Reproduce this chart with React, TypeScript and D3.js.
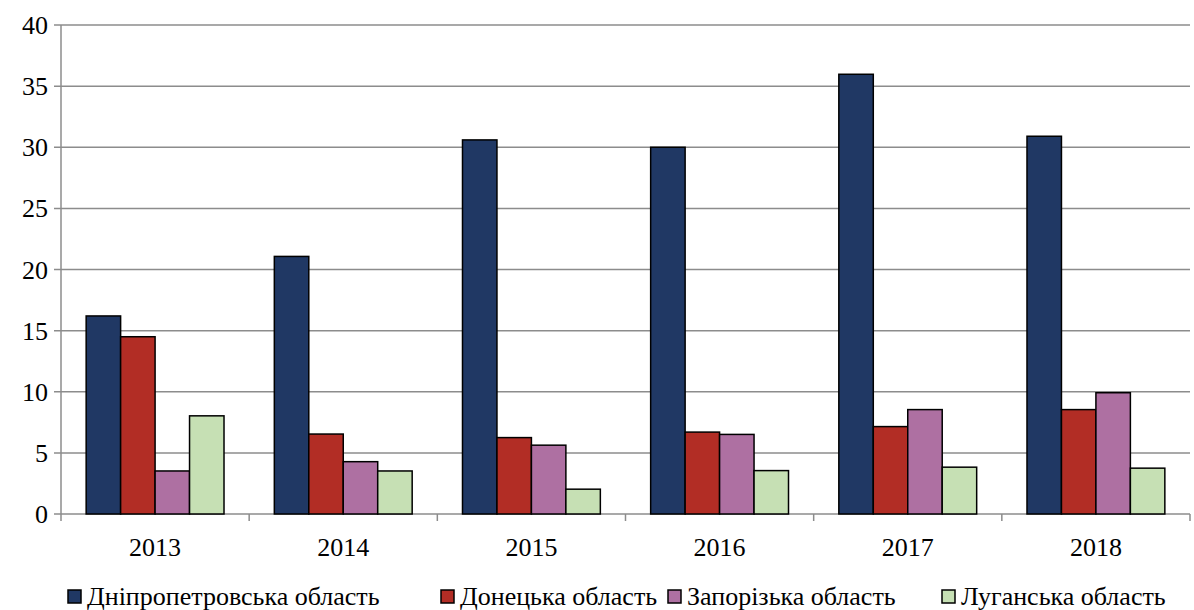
import React, { useEffect, useRef } from "react";
import * as d3 from "d3";

const years = ["2013", "2014", "2015", "2016", "2017", "2018"];
const seriesNames = [
  "Дніпропетровська область",
  "Донецька область",
  "Запорізька область",
  "Луганська область",
];
const dnipro = [16.2, 21.07, 30.6, 30.0, 35.97, 30.9];
const donetsk = [14.5, 6.54, 6.25, 6.7, 7.15, 8.54];
const zaporizhzhia = [3.52, 4.28, 5.63, 6.51, 8.54, 9.92];
const luhansk = [8.03, 3.52, 2.03, 3.55, 3.83, 3.75];
const yTicks = [0, 5, 10, 15, 20, 25, 30, 35, 40];
const colors = ["#203864", "#B22D25", "#AE70A2", "#C6E0B4"];

const W = 1194;
const H = 610;
const left = 61;
const right = 1190;
const top = 25;
const bottom = 514;

export default function App() {
  const ref = useRef<SVGSVGElement>(null);

  useEffect(() => {
    const svg = d3.select(ref.current);
    svg.selectAll("*").remove();
    const series = [dnipro, donetsk, zaporizhzhia, luhansk];
    const x = d3.scaleBand<string>().domain(years).range([left, right]).paddingInner(0).paddingOuter(0);
    const inner = d3
      .scaleBand<number>()
      .domain([0, 1, 2, 3])
      .range([0, x.bandwidth()])
      .paddingInner(0)
      .paddingOuter(0.73);
    const y = d3.scaleLinear().domain([0, 40]).range([bottom, top]);

    svg.append("rect").attr("width", W).attr("height", H).attr("fill", "#fff");

    const grid = svg.append("g");
    yTicks.forEach((t) => {
      grid
        .append("line")
        .attr("x1", left - 7)
        .attr("x2", right)
        .attr("y1", y(t))
        .attr("y2", y(t))
        .attr("stroke", "#8c8c8c")
        .attr("stroke-width", 1.5);
      grid
        .append("text")
        .attr("x", 48)
        .attr("y", y(t) + 9)
        .attr("text-anchor", "end")
        .attr("font-family", "Liberation Serif")
        .attr("font-size", 26)
        .text(String(t));
    });
    svg
      .append("line")
      .attr("x1", left)
      .attr("x2", left)
      .attr("y1", top)
      .attr("y2", bottom)
      .attr("stroke", "#8c8c8c")
      .attr("stroke-width", 1.5);
    const boundaries = years.map((yr) => x(yr) as number).concat([right]);
    boundaries.forEach((b) => {
      svg
        .append("line")
        .attr("x1", b)
        .attr("x2", b)
        .attr("y1", bottom)
        .attr("y2", bottom + 7)
        .attr("stroke", "#8c8c8c")
        .attr("stroke-width", 1.5);
    });

    series.forEach((vals, si) => {
      svg
        .append("g")
        .selectAll("rect")
        .data(vals)
        .join("rect")
        .attr("x", (_d, i) => (x(years[i]) as number) + (inner(si) as number))
        .attr("y", (d) => y(d))
        .attr("width", inner.bandwidth())
        .attr("height", (d) => y(0) - y(d))
        .attr("fill", colors[si])
        .attr("stroke", "#000")
        .attr("stroke-width", 1.5);
    });

    svg
      .append("g")
      .selectAll("text")
      .data(years)
      .join("text")
      .attr("x", (d) => (x(d) as number) + x.bandwidth() / 2)
      .attr("y", 556)
      .attr("text-anchor", "middle")
      .attr("font-family", "Liberation Serif")
      .attr("font-size", 26)
      .text((d) => d);

    const legendX = [68, 441, 668, 942];
    seriesNames.forEach((n, i) => {
      svg
        .append("rect")
        .attr("x", legendX[i])
        .attr("y", 590)
        .attr("width", 13)
        .attr("height", 13)
        .attr("fill", colors[i])
        .attr("stroke", "#000")
        .attr("stroke-width", 1.5);
      svg
        .append("text")
        .attr("x", legendX[i] + 19)
        .attr("y", 605)
        .attr("font-family", "Liberation Serif")
        .attr("font-size", 26)
        .text(n);
    });
  }, []);

  return <svg ref={ref} width={W} height={H} style={{ position: "absolute", left: 0, top: 0 }} />;
}
